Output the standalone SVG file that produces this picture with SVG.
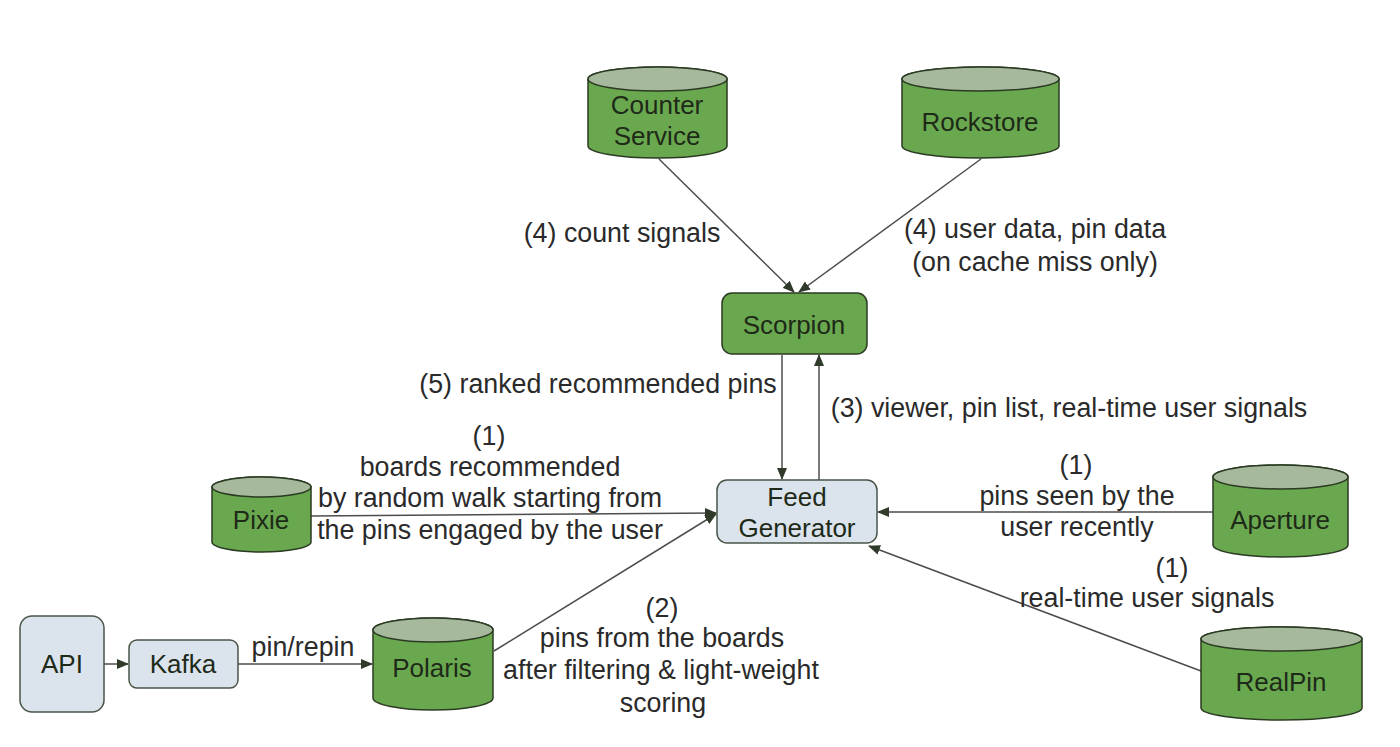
<svg xmlns="http://www.w3.org/2000/svg" width="1400" height="747" viewBox="0 0 1400 747">
<style>
.cyl{fill:#6aa84f;stroke:#2b3a22;stroke-width:1.5}
.cyltop{fill:#a6b99c;stroke:#2b3a22;stroke-width:1.5}
.green{fill:#6aa84f;stroke:#2b3a22;stroke-width:1.5}
.blue{fill:#dbe3ec;stroke:#4a5548;stroke-width:1.5}
.nl{font-family:"Liberation Sans",Arial,sans-serif;font-size:26px;fill:#1e2a18;text-anchor:middle}
.el{font-family:"Liberation Sans",Arial,sans-serif;font-size:26.8px;fill:#2a2a2a;text-anchor:middle}
.edge{stroke:#4d4d4d;stroke-width:1.5;fill:none;marker-end:url(#ah)}
</style>
<defs>
<marker id="ah" markerUnits="userSpaceOnUse" markerWidth="12" markerHeight="10" refX="11" refY="5" orient="auto">
<path d="M0,0 L12,5 L0,10 Z" fill="#2f3a2a"/>
</marker>
</defs>
<rect width="1400" height="747" fill="#ffffff"/>

<g id="connectors">
<line class="edge" x1="659" y1="159" x2="794" y2="292"/>
<line class="edge" x1="981" y1="159" x2="799" y2="292"/>
<line class="edge" x1="782" y1="355" x2="782" y2="479"/>
<line class="edge" x1="819" y1="480" x2="819" y2="355"/>
<line class="edge" x1="311" y1="516" x2="716" y2="513"/>
<line class="edge" x1="494" y1="651" x2="716" y2="514"/>
<line class="edge" x1="1213" y1="512" x2="878" y2="512"/>
<line class="edge" x1="1201" y1="671" x2="869" y2="546"/>
<line class="edge" x1="104" y1="664" x2="128" y2="664"/>
<line class="edge" x1="238" y1="664" x2="372" y2="664"/>
</g>

<g id="edge-labels">
<text class="el" x="622" y="242">(4) count signals</text>
<text class="el" x="1035" y="238">(4) user data, pin data</text>
<text class="el" x="1035" y="271">(on cache miss only)</text>
<text class="el" x="598" y="393">(5) ranked recommended pins</text>
<text class="el" x="1069" y="417">(3) viewer, pin list, real-time user signals</text>
<text class="el" x="489" y="445">(1)</text>
<text class="el" x="490" y="476">boards recommended</text>
<text class="el" x="490" y="507">by random walk starting from</text>
<text class="el" x="490" y="539">the pins engaged by the user</text>
<text class="el" x="1076" y="474">(1)</text>
<text class="el" x="1077" y="505">pins seen by the</text>
<text class="el" x="1077" y="536">user recently</text>
<text class="el" x="1172" y="577">(1)</text>
<text class="el" x="1147" y="607">real-time user signals</text>
<text class="el" x="662" y="617">(2)</text>
<text class="el" x="662" y="647">pins from the boards</text>
<text class="el" x="661" y="679">after filtering &amp; light-weight</text>
<text class="el" x="663" y="712">scoring</text>
<text class="el" x="303" y="656">pin/repin</text>
</g>

<g id="counter-service">
<path class="cyl" d="M588,79 A69.5,12 0 0,1 727,79 V146 A69.5,12 0 0,1 588,146 Z"/>
<ellipse class="cyltop" cx="657.5" cy="79" rx="69.5" ry="12"/>
<text class="nl" x="657" y="114">Counter</text>
<text class="nl" x="657" y="145">Service</text>
</g>

<g id="rockstore">
<path class="cyl" d="M902,79 A78.5,12 0 0,1 1059,79 V146 A78.5,12 0 0,1 902,146 Z"/>
<ellipse class="cyltop" cx="980.5" cy="79" rx="78.5" ry="12"/>
<text class="nl" x="980" y="131">Rockstore</text>
</g>

<g id="scorpion">
<rect class="green" x="722" y="293" width="145" height="61" rx="10"/>
<text class="nl" x="794" y="334">Scorpion</text>
</g>

<g id="feed-generator">
<rect class="blue" x="717" y="480" width="160" height="63" rx="10"/>
<text class="nl" x="797" y="506">Feed</text>
<text class="nl" x="797" y="537">Generator</text>
</g>

<g id="pixie">
<path class="cyl" d="M212,487 A49.5,10 0 0,1 311,487 V542 A49.5,10 0 0,1 212,542 Z"/>
<ellipse class="cyltop" cx="261.5" cy="487" rx="49.5" ry="10"/>
<text class="nl" x="261" y="529">Pixie</text>
</g>

<g id="aperture">
<path class="cyl" d="M1213,477 A67.5,12 0 0,1 1348,477 V545 A67.5,12 0 0,1 1213,545 Z"/>
<ellipse class="cyltop" cx="1280.5" cy="477" rx="67.5" ry="12"/>
<text class="nl" x="1280" y="529">Aperture</text>
</g>

<g id="api">
<rect class="blue" x="20" y="616" width="84" height="96" rx="12"/>
<text class="nl" x="62" y="673">API</text>
</g>

<g id="kafka">
<rect class="blue" x="129" y="640" width="109" height="48" rx="8"/>
<text class="nl" x="183" y="673">Kafka</text>
</g>

<g id="polaris">
<path class="cyl" d="M373,630 A60,12 0 0,1 493,630 V698 A60,12 0 0,1 373,698 Z"/>
<ellipse class="cyltop" cx="433" cy="630" rx="60" ry="12"/>
<text class="nl" x="432" y="677">Polaris</text>
</g>

<g id="realpin">
<path class="cyl" d="M1201,639 A80.5,12 0 0,1 1362,639 V708 A80.5,12 0 0,1 1201,708 Z"/>
<ellipse class="cyltop" cx="1281.5" cy="639" rx="80.5" ry="12"/>
<text class="nl" x="1281" y="691">RealPin</text>
</g>
</svg>
